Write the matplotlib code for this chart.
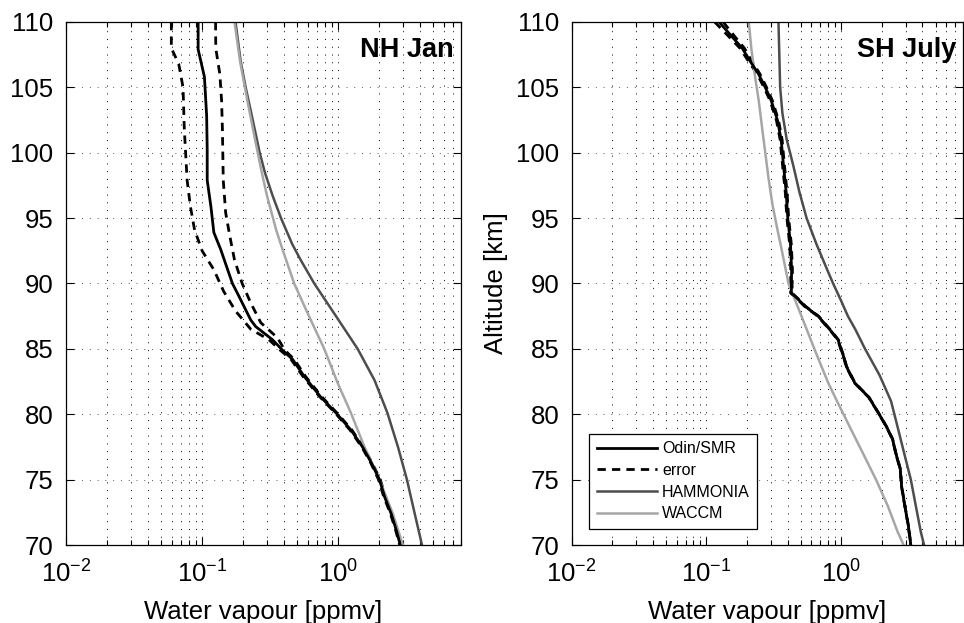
"""
Water vapour profiles: Odin/SMR vs HAMMONIA and WACCM
NH January and SH July
"""
import numpy as np
import matplotlib
matplotlib.use("Agg")
import matplotlib.pyplot as plt
from matplotlib.ticker import LogLocator, MultipleLocator

plt.rcParams['font.family'] = ['Liberation Sans', 'DejaVu Sans']
plt.rcParams['mathtext.fontset'] = 'custom'
plt.rcParams['mathtext.rm'] = 'Liberation Sans'
plt.rcParams['mathtext.it'] = 'Liberation Sans'
plt.rcParams['mathtext.bf'] = 'Liberation Sans:bold'

# ---- NH January ----
nh_smr_alt = [110, 107.9, 105.8, 102.8, 100.2, 97.9, 95.9, 93.9, 92.6, 90.0, 89.0,
              87.2, 86.7, 85.7, 84.9, 84.2, 82.9, 81.35, 80.1, 78.8, 77.5, 76.3,
              75.0, 73.7, 72.4, 71.15, 70]
nh_smr = [0.0935, 0.0935, 0.104, 0.108, 0.109, 0.109, 0.116, 0.122, 0.137, 0.167, 0.187,
          0.228, 0.248, 0.329, 0.39, 0.462, 0.562, 0.74, 0.964, 1.24, 1.51, 1.75,
          2.01, 2.19, 2.45, 2.67, 2.86]

nh_err_lo_alt = [110, 108, 106.8, 105, 101.8, 97.9, 95.9, 94.1, 92.5, 91.05, 89.4,
                 87.9, 86.5, 85.7, 84.9, 84.2, 82.9, 81.35, 80.1, 78.8, 77.5, 76.3,
                 75.0, 73.7, 72.4, 71.15, 70]
nh_err_lo = [0.0594, 0.0594, 0.0673, 0.0724, 0.074, 0.0776, 0.082, 0.088, 0.100, 0.122,
             0.144, 0.176, 0.228, 0.31, 0.375, 0.45, 0.55, 0.73, 0.95, 1.22, 1.49, 1.73,
             1.98, 2.16, 2.42, 2.64, 2.83]

nh_err_hi_alt = [110, 108, 106, 104, 101.8, 97.9, 95.4, 93.6, 91.8, 90.0, 88.5, 87.0,
                 85.85, 84.9, 84.2, 82.9, 81.35, 80.1, 78.8, 77.5, 76.3, 75.0, 73.7,
                 72.4, 71.15, 70]
nh_err_hi = [0.1256, 0.126, 0.135, 0.139, 0.141, 0.143, 0.149, 0.16, 0.173, 0.197, 0.228,
             0.27, 0.358, 0.405, 0.475, 0.575, 0.755, 0.98, 1.26, 1.53, 1.77, 2.04, 2.22,
             2.48, 2.70, 2.89]

nh_ham_alt = [110, 107, 105, 103, 100, 98.45, 96.7, 95, 93, 91.8, 90, 87.5, 85, 82.6,
              80.1, 77.5, 75, 72.4, 70]
nh_ham = [0.176, 0.192, 0.209, 0.23, 0.265, 0.29, 0.33, 0.38, 0.46, 0.53, 0.667, 0.964,
          1.39, 1.85, 2.30, 2.75, 3.20, 3.65, 4.13]

nh_wac_alt = [110, 107, 104, 101, 98.45, 96.7, 94.1, 92.6, 90, 87.5, 85, 82.4, 80.1,
              77.5, 75, 72.4, 70]
nh_wac = [0.173, 0.19, 0.215, 0.245, 0.275, 0.30, 0.35, 0.39, 0.475, 0.61, 0.79, 0.99,
          1.24, 1.56, 2.01, 2.52, 2.99]

# ---- SH July ----
sh_smr_alt = [110, 109, 108, 107, 106, 105, 104, 102.5, 101, 99, 97, 95, 93, 91.05,
              89.27, 88.9, 88.26, 87.5, 86.48, 85.7, 84.93, 84.3, 83.66, 82.39, 81.3,
              80.2, 79.1, 78.1, 77.0, 75.8, 74.5, 73, 71.5, 70]
sh_smr = [0.124, 0.151, 0.184, 0.211, 0.244, 0.273, 0.302, 0.336, 0.358, 0.373, 0.39,
          0.401, 0.42, 0.428, 0.426, 0.467, 0.538, 0.674, 0.822, 0.946, 1.0, 1.05, 1.09,
          1.26, 1.6, 1.86, 2.15, 2.4, 2.54, 2.74, 2.8, 2.96, 3.14, 3.28]
sh_err_lo = [0.115, 0.143, 0.177, 0.205, 0.238, 0.267, 0.296, 0.330, 0.352, 0.367, 0.384,
             0.395, 0.414, 0.422, 0.421, 0.462, 0.533, 0.669, 0.817, 0.941, 0.995, 1.045,
             1.085, 1.255, 1.595, 1.855, 2.145, 2.395, 2.535, 2.735, 2.795, 2.955, 3.135,
             3.275]
sh_err_hi = [0.133, 0.159, 0.191, 0.217, 0.250, 0.279, 0.308, 0.342, 0.364, 0.379, 0.396,
             0.407, 0.426, 0.434, 0.431, 0.472, 0.543, 0.679, 0.827, 0.951, 1.005, 1.055,
             1.095, 1.265, 1.605, 1.865, 2.155, 2.405, 2.545, 2.745, 2.805, 2.965, 3.145,
             3.285]

sh_ham_alt = [110, 105, 103, 101, 99, 97, 95, 93, 91, 90, 88.75, 87.5, 86.5, 85, 83, 81,
              79, 77, 75, 73, 71, 70]
sh_ham = [0.342, 0.352, 0.366, 0.394, 0.441, 0.489, 0.553, 0.655, 0.79, 0.87, 0.99, 1.12,
          1.27, 1.5, 1.92, 2.34, 2.62, 2.93, 3.28, 3.57, 3.89, 4.11]

sh_wac_alt = [110, 108, 106, 104, 102, 100, 98, 96, 94, 92.6, 90, 87.5, 84.9, 82.4, 81,
              79, 77, 75, 73, 71, 70]
sh_wac = [0.206, 0.215, 0.228, 0.244, 0.258, 0.273, 0.289, 0.309, 0.338, 0.361, 0.406,
          0.507, 0.637, 0.80, 0.93, 1.16, 1.45, 1.81, 2.21, 2.62, 2.90]

panel_titles = ['NH Jan', 'SH July']

DARK = '#4d4d4d'
LIGHT = '#a6a6a6'
DOTS = (0, (1, 7))
DASH = (0, (3, 2.2))


def style_axis(ax):
    ax.set_xscale('log')
    ax.set_xlim(0.01, 8)
    ax.set_ylim(70, 110)
    ax.yaxis.set_major_locator(MultipleLocator(5))
    ax.xaxis.set_major_locator(LogLocator(base=10, numticks=10))
    ax.xaxis.set_minor_locator(LogLocator(base=10, subs=np.arange(2, 10), numticks=20))
    ax.tick_params(which='both', direction='in', top=True, right=True, labelsize=18.5)
    ax.tick_params(which='major', length=6, width=0.8)
    ax.tick_params(which='minor', length=3.5, width=0.8)
    ax.tick_params(axis='x', which='major', pad=11)
    ax.tick_params(axis='y', which='major', pad=9)
    ax.grid(which='major', axis='y', linestyle=DOTS, color='0.35', lw=0.7)
    ax.grid(which='both', axis='x', linestyle=DOTS, color='k', lw=0.7)
    ax.set_axisbelow(True)
    ax.set_xlabel('Water vapour [ppmv]', fontsize=18.5, labelpad=9)
    for sp in ax.spines.values():
        sp.set_linewidth(0.9)


fig = plt.figure(figsize=(9.64, 6.23), dpi=100)
ax1 = fig.add_axes([0.0685, 0.1252, 0.4098, 0.8395])
ax2 = fig.add_axes([0.593, 0.1252, 0.406, 0.8395])

# NH panel
ax1.plot(nh_err_lo, nh_err_lo_alt, color='k', lw=2.0, linestyle=DASH)
ax1.plot(nh_err_hi, nh_err_hi_alt, color='k', lw=2.0, linestyle=DASH)
ax1.plot(nh_ham, nh_ham_alt, color=DARK, lw=1.8)
ax1.plot(nh_wac, nh_wac_alt, color=LIGHT, lw=1.8)
ax1.plot(nh_smr, nh_smr_alt, color='k', lw=2.0)

# SH panel
ax2.plot(sh_err_lo, sh_smr_alt, color='k', lw=2.0, linestyle=DASH)
ax2.plot(sh_err_hi, sh_smr_alt, color='k', lw=2.0, linestyle=DASH)
ax2.plot(sh_ham, sh_ham_alt, color=DARK, lw=1.8)
ax2.plot(sh_wac, sh_wac_alt, color=LIGHT, lw=1.8)
ax2.plot(sh_smr, sh_smr_alt, color='k', lw=2.0)

for ax, title in zip([ax1, ax2], panel_titles):
    style_axis(ax)
    ax.text(0.982, 0.946, title, transform=ax.transAxes, ha='right', va='center',
            fontsize=19.5, fontweight='bold')

ax2.set_ylabel('Altitude [km]', fontsize=18.5, labelpad=6)

# legend with proxy lines
h1, = ax2.plot([], [], color='k', lw=2.0, label='Odin/SMR')
h2, = ax2.plot([], [], color='k', lw=2.0, linestyle=DASH, label='error')
h3, = ax2.plot([], [], color=DARK, lw=1.8, label='HAMMONIA')
h4, = ax2.plot([], [], color=LIGHT, lw=1.8, label='WACCM')
leg = ax2.legend(handles=[h1, h2, h3, h4], loc='lower left',
                 bbox_to_anchor=(0.025, 0.016), fontsize=11.5, handlelength=3.8,
                 handletextpad=0.3, labelspacing=0.42, borderpad=0.45,
                 fancybox=False, framealpha=1, edgecolor='k')
leg.get_frame().set_linewidth(0.9)

fig.savefig('out.png', dpi=100)
